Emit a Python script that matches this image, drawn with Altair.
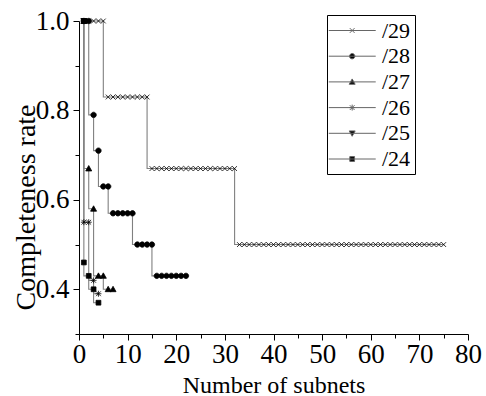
import altair as alt
import pandas as pd

series_names = ["/29", "/28", "/27", "/26", "/25", "/24"]

x29 = [1, 2, 3, 4, 5, 6, 7, 8, 9, 10, 11, 12, 13, 14, 15, 16, 17, 18, 19, 20,
       21, 22, 23, 24, 25, 26, 27, 28, 29, 30, 31, 32, 33, 34, 35, 36, 37, 38, 39, 40,
       41, 42, 43, 44, 45, 46, 47, 48, 49, 50, 51, 52, 53, 54, 55, 56, 57, 58, 59, 60,
       61, 62, 63, 64, 65, 66, 67, 68, 69, 70, 71, 72, 73, 74, 75]
y29 = [1.0, 1.0, 1.0, 1.0, 1.0, 0.83, 0.83, 0.83, 0.83, 0.83, 0.83, 0.83, 0.83, 0.83,
       0.67, 0.67, 0.67, 0.67, 0.67, 0.67, 0.67, 0.67, 0.67, 0.67, 0.67, 0.67, 0.67, 0.67,
       0.67, 0.67, 0.67, 0.67, 0.5, 0.5, 0.5, 0.5, 0.5, 0.5, 0.5, 0.5, 0.5, 0.5, 0.5, 0.5,
       0.5, 0.5, 0.5, 0.5, 0.5, 0.5, 0.5, 0.5, 0.5, 0.5, 0.5, 0.5, 0.5, 0.5, 0.5, 0.5,
       0.5, 0.5, 0.5, 0.5, 0.5, 0.5, 0.5, 0.5, 0.5, 0.5, 0.5, 0.5, 0.5, 0.5, 0.5]

x28 = [1, 2, 3, 4, 5, 6, 7, 8, 9, 10, 11, 12, 13, 14, 15, 16, 17, 18, 19, 20, 21, 22]
y28 = [1.0, 1.0, 0.79, 0.71, 0.63, 0.63, 0.57, 0.57, 0.57, 0.57, 0.57,
       0.5, 0.5, 0.5, 0.5, 0.43, 0.43, 0.43, 0.43, 0.43, 0.43, 0.43]

x27 = [1, 2, 3, 4, 5, 6, 7]
y27 = [1.0, 0.67, 0.58, 0.43, 0.43, 0.40, 0.40]

x26 = [1, 1, 2, 3, 4]
y26 = [1.0, 0.55, 0.55, 0.42, 0.39]

x25 = [1]
y25 = [1.0]

x24 = [1, 1, 2, 3, 4]
y24 = [1.0, 0.46, 0.43, 0.40, 0.37]

x_ticks = [0, 10, 20, 30, 40, 50, 60, 70, 80]
x_minor = [5, 15, 25, 35, 45, 55, 65, 75]
y_ticks = [0.4, 0.6, 0.8, 1.0]
y_minor = [0.3, 0.5, 0.7, 0.9]

rows = []
for name, xs, ys in zip(series_names, [x29, x28, x27, x26, x25, x24],
                        [y29, y28, y27, y26, y25, y24]):
    for i, (xv, yv) in enumerate(zip(xs, ys)):
        rows.append({"series": name, "x": xv, "y": yv, "i": i})
df = pd.DataFrame(rows)

# marker shapes (unit coordinates)
marker_paths = [
    "M-0.8,-0.8L0.8,0.8M-0.8,0.8L0.8,-0.8",
    "M-0.9,0A0.9,0.9 0 1,0 0.9,0A0.9,0.9 0 1,0 -0.9,0Z",
    "M0,-1L1,0.8L-1,0.8Z",
    "M-0.8,-0.8L0.8,0.8M-0.8,0.8L0.8,-0.8M0,-1L0,1M-1,0L1,0",
    "M0,1L1,-0.8L-1,-0.8Z",
    "M-0.8,-0.8L0.8,-0.8L0.8,0.8L-0.8,0.8Z",
]


def legend_symbol(path, k=0.27, cx=0.88, x0=-1.25, x1=3.02):
    """Legend glyph: a short line with the marker shape drawn on it."""
    out = f"M{x0},0L{x1},0"
    tokens = (path.replace("M", " M ").replace("L", " L ")
              .replace("Z", " Z ").replace("A", " A ").split())
    res = []
    j = 0
    while j < len(tokens):
        t = tokens[j]
        if t in ("M", "L"):
            px, py = tokens[j + 1].split(",")
            res.append(f"{t}{float(px)*k+cx:.3f},{float(py)*k:.3f}")
            j += 2
        elif t == "A":
            rxry = tokens[j + 1].split(",")
            rot = tokens[j + 2]
            flags = tokens[j + 3]
            px, py = tokens[j + 4].split(",")
            res.append(f"A{float(rxry[0])*k:.3f},{float(rxry[1])*k:.3f} {rot} {flags} "
                       f"{float(px)*k+cx:.3f},{float(py)*k:.3f}")
            j += 5
        else:
            res.append("Z")
            j += 1
    return out + "".join(res)


legend_paths = [legend_symbol(p) for p in marker_paths]

FONT = "Liberation Serif"
xscale = alt.Scale(domain=[0, 80], nice=False, zero=False)
yscale = alt.Scale(domain=[0.3, 1.0], nice=False, zero=False)

lines = alt.Chart(df).mark_line(
    interpolate="step-before", color="#808080", strokeWidth=1.1
).encode(
    x=alt.X("x:Q", scale=xscale, axis=alt.Axis(
        values=x_ticks, title="Number of subnets", orient="bottom",
        tickSize=6, labelPadding=1, labelFlush=False, titleX=194.5, titleY=58,
        titleAlign="center", titleBaseline="alphabetic", titleFontSize=24)),
    y=alt.Y("y:Q", scale=yscale, axis=alt.Axis(
        values=y_ticks, format=".1f", title="Completeness rate", orient="left",
        tickSize=6, labelPadding=4, labelFlush=False, titleX=-45, titleY=186,
        titleAngle=-90, titleAlign="center", titleBaseline="alphabetic",
        titleFontSize=28)),
    detail="series:N",
    order="i:Q",
)

point_layers = []
for idx, (name, path) in enumerate(zip(series_names, marker_paths)):
    if idx == 0:
        xax = alt.Axis(values=x_minor, labels=False, domain=False, title=None,
                       tickSize=4, orient="bottom")
        yax = alt.Axis(values=y_minor, labels=False, domain=False, title=None,
                       tickSize=4, orient="left")
    else:
        xax = None
        yax = None
    point_layers.append(
        alt.Chart(df).transform_filter(alt.datum.series == name).mark_point(
            shape=path, filled=True, fill="black", stroke="black",
            strokeWidth=0.8, size=36, opacity=1
        ).encode(
            x=alt.X("x:Q", scale=xscale, axis=xax),
            y=alt.Y("y:Q", scale=yscale, axis=yax),
        )
    )

legend_layer = alt.Chart(pd.DataFrame({"series": series_names})).transform_filter(
    "false"
).mark_point(
    filled=True, strokeWidth=1, size=484, opacity=1
).encode(
    shape=alt.Shape("series:N", sort=series_names,
                    scale=alt.Scale(domain=series_names, range=legend_paths),
                    legend=alt.Legend(
                        title=None, orient="none", legendX=248, legendY=-6,
                        padding=4, rowPadding=2.7, strokeColor="black",
                        fillColor="white", labelFont=FONT, labelFontSize=22,
                        labelColor="black", labelOffset=28, symbolSize=484,
                        symbolStrokeWidth=1, symbolOpacity=1)),
    stroke=alt.Stroke("series:N", sort=series_names,
                      scale=alt.Scale(domain=series_names, range=["#666666"] * 6),
                      legend=alt.Legend(title=None)),
    fill=alt.Fill("series:N", sort=series_names,
                  scale=alt.Scale(domain=series_names, range=["#000000"] * 6),
                  legend=alt.Legend(title=None)),
)

chart = alt.layer(lines, *point_layers, legend_layer).resolve_axis(
    x="independent", y="independent"
).properties(
    width=389, height=313, autosize="none",
    padding={"left": 79, "top": 21, "right": 18, "bottom": 62},
).configure_axis(
    grid=False, domainColor="black", tickColor="black", domainWidth=1, tickWidth=1,
    labelFont=FONT, labelFontSize=27, labelColor="black",
    titleFont=FONT, titleFontWeight="normal", titleColor="black",
).configure_view(stroke=None)

chart.save("out.html", embed_options={"renderer": "svg", "actions": False})
